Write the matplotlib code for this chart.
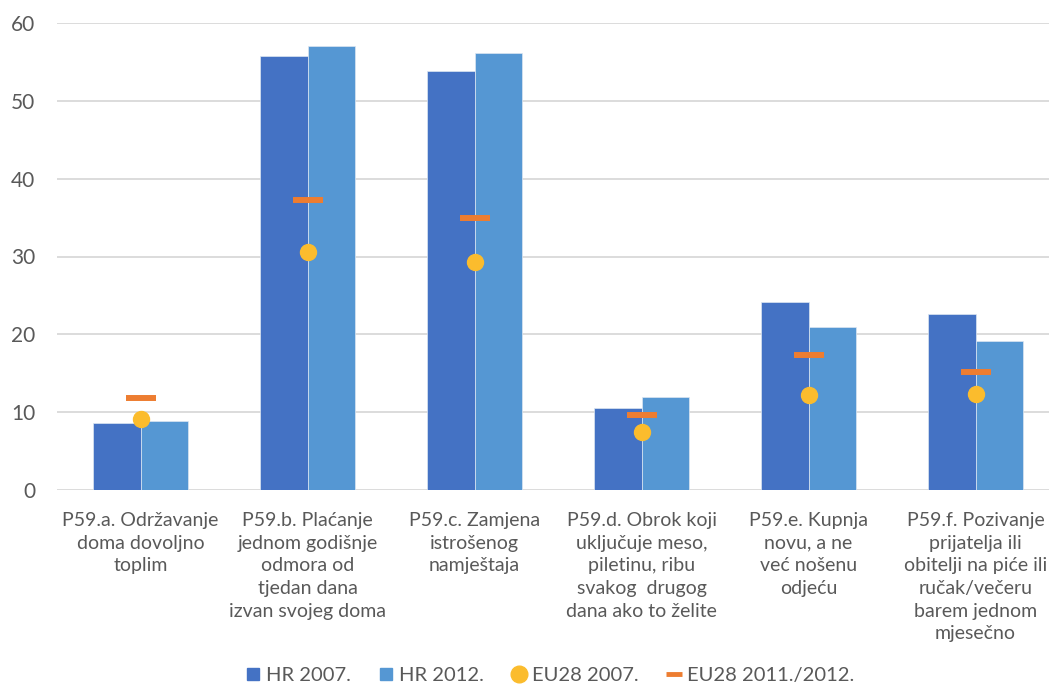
import matplotlib
matplotlib.use("Agg")
import matplotlib.pyplot as plt
from matplotlib.lines import Line2D
import numpy as np

plt.rcParams['font.family'] = ['Lato', 'DejaVu Sans']

categories = [
    "P59.a. Održavanje\ndoma dovoljno\ntoplim",
    "P59.b. Plaćanje\njednom godišnje\nodmora od\ntjedan dana\nizvan svojeg doma",
    "P59.c. Zamjena\nistrošenog\nnamještaja",
    "P59.d. Obrok koji\nuključuje meso,\npiletinu, ribu\nsvakog  drugog\ndana ako to želite",
    "P59.e. Kupnja\nnovu, a ne\nveć nošenu\nodjeću",
    "P59.f. Pozivanje\nprijatelja ili\nobitelji na piće ili\nručak/večeru\nbarem jednom\nmjesečno",
]
hr_2007 = [8.65, 55.8, 53.8, 10.5, 24.15, 22.6]
hr_2012 = [8.85, 57.05, 56.2, 11.9, 21.0, 19.2]
eu_2007 = [9.1, 30.6, 29.25, 7.5, 12.25, 12.3]
eu_2012 = [11.8, 37.2, 34.9, 9.7, 17.3, 15.15]
legend_labels = ["HR 2007.", "HR 2012.", "EU28 2007.", "EU28 2011./2012."]

c_hr07 = "#4472C4"
c_hr12 = "#5597D3"
c_eu07 = "#FBBC2D"
c_eu12 = "#ED7D31"
txt = "#595959"

W, H = 1049, 684
fig = plt.figure(figsize=(W / 100, H / 100), dpi=100)
left, right = 57, 1049
bottom, top = 490, 23
ax = fig.add_axes([left / W, 1 - bottom / H, (right - left) / W, (bottom - top) / H])

x = np.arange(len(categories))
bw = 0.283
ax.bar(x - bw / 2, hr_2007, bw, color=c_hr07, edgecolor="#dce6f2", linewidth=0.5, zorder=2)
ax.bar(x + bw / 2, hr_2012, bw, color=c_hr12, edgecolor="#dce6f2", linewidth=0.5, zorder=2)
ax.plot(x, eu_2007, linestyle="none", marker="o", ms=11.5, color=c_eu07, mec=c_eu07, zorder=3)
ax.plot(x, eu_2012, linestyle="none", marker="_", ms=21.5, mew=4.3, color=c_eu12, zorder=3)

cat_w = 167
ax.set_xlim(-0.5, -0.5 + (right - left) / cat_w)
ax.set_ylim(0, 60)
ax.set_yticks(range(0, 61, 10))
ax.yaxis.grid(True, color="#d9d9d9", linewidth=1.3, zorder=0)
ax.set_axisbelow(True)
for s in ax.spines.values():
    s.set_visible(False)
ax.tick_params(axis="y", length=0, pad=15.5, labelsize=15, labelcolor=txt)
ax.set_xticks(x)
ax.set_xticklabels(categories, fontsize=14, color=txt, linespacing=1.4, va="top")
ax.tick_params(axis="x", length=0, pad=16)

handles = [
    Line2D([], [], linestyle="none", marker="s", ms=8, color=c_hr07),
    Line2D([], [], linestyle="none", marker="s", ms=8, color=c_hr12),
    Line2D([], [], linestyle="none", marker="o", ms=12, color=c_eu07),
    Line2D([], [], linestyle="none", marker="_", ms=12, mew=3.5, color=c_eu12),
]
leg = fig.legend(handles, legend_labels, loc="center", bbox_to_anchor=(550 / W, 1 - 675 / H),
                 ncol=4, frameon=False, fontsize=14.5, handlelength=0.7, handletextpad=0.3,
                 columnspacing=1.4, labelcolor=txt)

fig.savefig("out.png", dpi=100)
